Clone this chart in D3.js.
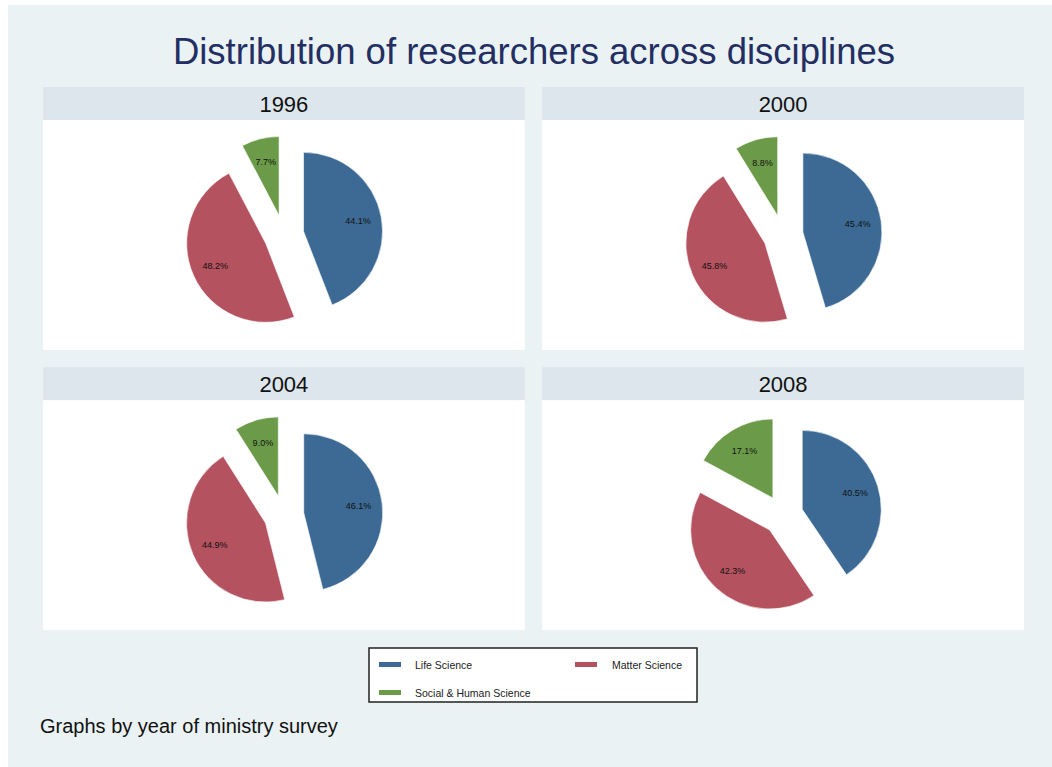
<!DOCTYPE html>
<html>
<head>
<meta charset="utf-8">
<script src="https://cdn.jsdelivr.net/npm/d3@7"></script>
<style>
  html, body { margin: 0; padding: 0; background: #ffffff; }
  svg { display: block; font-family: "Liberation Sans", Arial, Helvetica, sans-serif; }
</style>
</head>
<body>
<svg id="chart" width="1052" height="767"></svg>
<script>
// Data
// ----
const years = ["1996", "2000", "2004", "2008"];
const categories = ["Life Science", "Matter Science", "Social & Human Science"];
const lifeScience = [44.1, 45.4, 46.1, 40.5];
const matterScience = [48.2, 45.8, 44.9, 42.3];
const socialScience = [7.7, 8.8, 9.0, 17.1];
const colors = ["#3c6a94", "#b4525f", "#6b9a48"];

const title = "Distribution of researchers across disciplines";
const note = "Graphs by year of ministry survey";

// Layout
// ------
const svg = d3.select("#chart");
const W = 1052, H = 767;
const headerH = 33, plotH = 230;
const radius = 79, explode = 20;

const color = d3.scaleOrdinal().domain(categories).range(colors);

// panel grid: 2 columns, 2 rows
const colX = d3.scaleBand().domain([0, 1]).range([43, 1024]).paddingInner(0.035);
const rowY = d3.scaleBand().domain([0, 1]).range([87, 630]).paddingInner(0.062);

// Background
svg.append("rect").attr("x", 8).attr("y", 5).attr("width", W - 8).attr("height", H - 5)
  .attr("fill", "#eaf2f3");

// Title
svg.append("text")
  .attr("x", 534).attr("y", 64)
  .attr("text-anchor", "middle")
  .attr("font-size", 36.5)
  .attr("fill", "#232f62")
  .text(title);

const pie = d3.pie().sort(null).value(d => d.value).startAngle(0).endAngle(2 * Math.PI);
const arc = d3.arc().innerRadius(0).outerRadius(radius);
const labelArc = d3.arc().innerRadius(radius * 0.7).outerRadius(radius * 0.7);

years.forEach((year, i) => {
  const col = i % 2, row = Math.floor(i / 2);
  const x0 = colX(col), y0 = rowY(row), pw = colX.bandwidth();
  const g = svg.append("g").attr("transform", `translate(${x0},${y0})`);

  // header strip
  g.append("rect").attr("width", pw).attr("height", headerH).attr("fill", "#dce6ec");
  g.append("text")
    .attr("x", pw / 2).attr("y", headerH / 2 + 8)
    .attr("text-anchor", "middle")
    .attr("font-size", 22)
    .attr("fill", "#111")
    .text(year);

  // plot region
  g.append("rect").attr("y", headerH).attr("width", pw).attr("height", plotH).attr("fill", "#ffffff");

  const values = [lifeScience[i], matterScience[i], socialScience[i]];
  const slices = pie(categories.map((c, k) => ({ cat: c, value: values[k] })));

  const pg = g.append("g").attr("transform", `translate(${pw / 2},${headerH + plotH / 2})`);

  const sg = pg.selectAll("g.slice").data(slices).join("g")
    .attr("class", "slice")
    .attr("transform", d => {
      const a = (d.startAngle + d.endAngle) / 2;
      return `translate(${Math.sin(a) * explode},${-Math.cos(a) * explode})`;
    });

  sg.append("path")
    .attr("d", arc)
    .attr("fill", d => color(d.data.cat))
    .attr("stroke", "#ffffff")
    .attr("stroke-width", 0.6);

  sg.append("text")
    .attr("transform", d => `translate(${labelArc.centroid(d)})`)
    .attr("text-anchor", "middle")
    .attr("dy", "0.35em")
    .attr("font-size", 9)
    .attr("fill", "#111")
    .text(d => d.data.value.toFixed(1) + "%");
});

// Legend
const lg = svg.append("g").attr("transform", "translate(369,648)");
lg.append("rect").attr("width", 328).attr("height", 54)
  .attr("fill", "#ffffff").attr("stroke", "#222").attr("stroke-width", 1.5);

const legendPos = [[10, 14], [206, 14], [10, 42]];
const items = lg.selectAll("g.item").data(categories).join("g")
  .attr("class", "item")
  .attr("transform", (d, k) => `translate(${legendPos[k][0]},${legendPos[k][1]})`);
items.append("rect").attr("width", 22).attr("height", 5).attr("fill", d => color(d));
items.append("text")
  .attr("x", d => d === "Matter Science" ? 37 : 36).attr("y", 7)
  .attr("font-size", 10.5)
  .attr("fill", "#222")
  .text(d => d);

// Note
svg.append("text")
  .attr("x", 40).attr("y", 733)
  .attr("font-size", 20)
  .attr("fill", "#111")
  .text(note);
</script>
</body>
</html>
